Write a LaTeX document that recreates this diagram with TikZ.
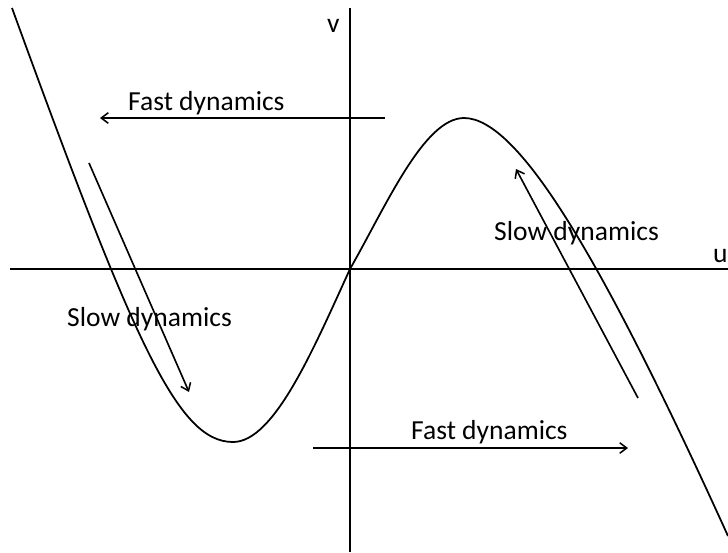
\documentclass[tikz,border=0pt]{standalone}
\usepackage{fontspec}
\setmainfont{Carlito}
\usetikzlibrary{arrows.meta}

\begin{document}
\begin{tikzpicture}[x=0.03cm, y=-0.03cm,
    lbl/.style={font=\fontsize{23.5}{28}\selectfont, inner sep=0pt, anchor=base west},
    flow/.style={line width=1.4pt, -{Straight Barb[length=6pt, width=9pt, line width=1.3pt]}}]
            \useasboundingbox (0,0) rectangle (728,552);

            % axes
            \coordinate (U0) at (10,269);
            \coordinate (U1) at (728,269);
            \coordinate (V0) at (350,552);
            \coordinate (V1) at (350,8);
            \draw[line width=2.4pt] (U0) -- (U1);
            \draw[line width=1.9pt] (V0) -- (V1);
            \node[lbl] (vlab) at (327,32) {v};
            \node[lbl] (ulab) at (713,262) {u};

            % the cubic nullcline
            \coordinate (Top) at (12,8);
            \coordinate (Min) at (233,442);
            \coordinate (O) at (350,269);
            \coordinate (Max) at (464,118);
            \coordinate (End) at (728,536);
            \draw[line width=1.5pt] (Top) .. controls (135,346) and (178,442) .. (Min)
                .. controls (274,442) and (313,350) .. (O)
                .. controls (386,206) and (424,118) .. (Max)
                .. controls (519,118) and (603,261) .. (End);

            % fast jumps
            \coordinate (FL0) at (385,118);
            \coordinate (FL1) at (100,118);
            \draw[flow] (FL0) -- (FL1);
            \node[lbl] (fastL) at (128,110) {Fast dynamics};

            \coordinate (FR0) at (313,448);
            \coordinate (FR1) at (628,448);
            \draw[flow] (FR0) -- (FR1);
            \node[lbl] (fastR) at (411,439) {Fast dynamics};

            % slow drift along the branches
            \coordinate (SL0) at (89,163);
            \coordinate (SL1) at (189,392);
            \draw[flow] (SL0) -- (SL1);
            \node[lbl] (slowL) at (67,326) {Slow dynamics};

            \coordinate (SR0) at (638,398);
            \coordinate (SR1) at (516,169);
            \draw[flow] (SR0) -- (SR1);
            \node[lbl] (slowR) at (494,240) {Slow dynamics};
        \end{tikzpicture}
\end{document}
